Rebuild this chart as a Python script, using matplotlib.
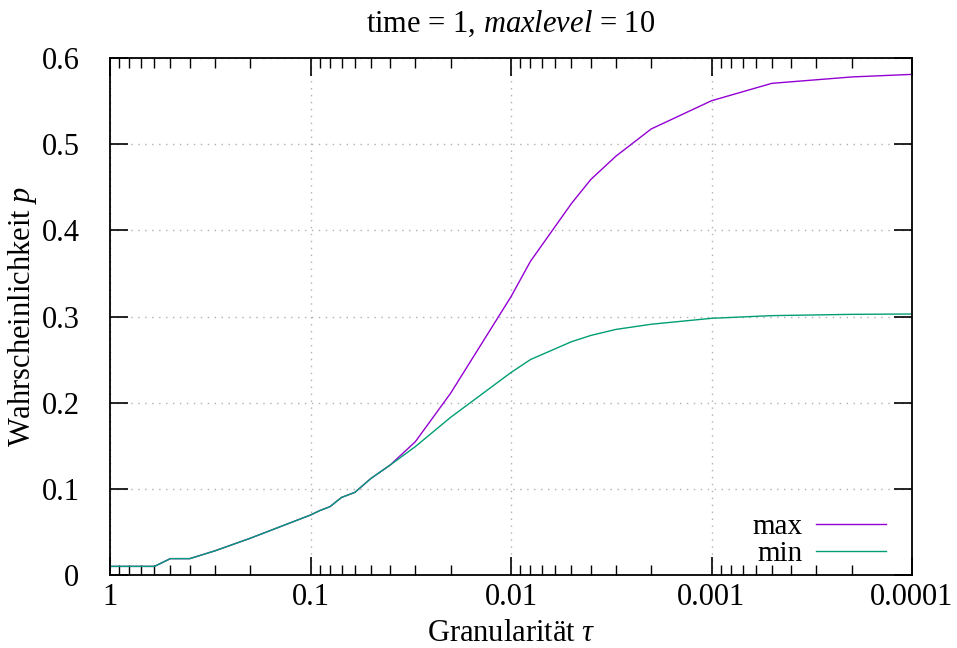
import matplotlib
matplotlib.use("Agg")
import matplotlib.pyplot as plt
from matplotlib.ticker import FixedLocator, FixedFormatter, LogLocator, NullFormatter

plt.rcParams["font.family"] = ["Liberation Serif", "DejaVu Serif"]
plt.rcParams["mathtext.fontset"] = "custom"
plt.rcParams["mathtext.rm"] = "Liberation Serif"
plt.rcParams["mathtext.it"] = "Liberation Serif:italic"

# Granularity values (tau) and the probabilities per series
tau = [1, 0.9, 0.8, 0.7, 0.6, 0.5, 0.4, 0.3, 0.2, 0.1, 0.09, 0.08, 0.07,
       0.06, 0.05, 0.04, 0.03, 0.02, 0.01, 0.008, 0.005, 0.004, 0.003,
       0.002, 0.001, 0.0005, 0.0002, 0.0001]
p_max = [0.010, 0.010, 0.010, 0.010, 0.010, 0.019, 0.019, 0.028, 0.0426,
         0.0696, 0.0747, 0.0793, 0.090, 0.096, 0.112, 0.1277, 0.1547,
         0.211, 0.323, 0.364, 0.431, 0.459, 0.486, 0.5176, 0.5504, 0.5706,
         0.578, 0.581]
p_min = [0.010, 0.010, 0.010, 0.010, 0.010, 0.019, 0.019, 0.028, 0.0426,
         0.0696, 0.0747, 0.0793, 0.090, 0.096, 0.112, 0.1277, 0.149,
         0.183, 0.235, 0.250, 0.2707, 0.278, 0.285, 0.291, 0.2979, 0.301,
         0.3025, 0.3029]

x_ticks = [1, 0.1, 0.01, 0.001, 0.0001]
x_labels = ["1", "0.1", "0.01", "0.001", "0.0001"]
y_ticks = [0, 0.1, 0.2, 0.3, 0.4, 0.5, 0.6]
y_labels = ["0", "0.1", "0.2", "0.3", "0.4", "0.5", "0.6"]

FS = 22

fig = plt.figure(figsize=(9.57, 6.48), dpi=100)
ax = fig.add_axes([110 / 957, 1 - 575 / 648, 802 / 957, 517 / 648])

ax.plot(tau, p_max, color="#9400D3", lw=1.0, label="max")
ax.plot(tau, p_min, color="#009E73", lw=1.0, label="min")

ax.set_xscale("log")
ax.set_xlim(1, 0.0001)
ax.set_ylim(0, 0.6)

ax.xaxis.set_major_locator(FixedLocator(x_ticks))
ax.xaxis.set_major_formatter(FixedFormatter(x_labels))
ax.xaxis.set_minor_locator(LogLocator(base=10, subs=range(2, 10)))
ax.xaxis.set_minor_formatter(NullFormatter())
ax.yaxis.set_major_locator(FixedLocator(y_ticks))
ax.yaxis.set_major_formatter(FixedFormatter(y_labels))

ax.tick_params(which="major", direction="in", length=13, width=1.2,
               top=True, right=True, labelsize=FS, colors="black")
ax.tick_params(axis="x", which="major", pad=6)
ax.tick_params(axis="y", which="major", pad=22)
ax.tick_params(which="minor", direction="in", length=7, width=1.0,
               top=True, right=True)
for s in ax.spines.values():
    s.set_linewidth(1.3)

ax.grid(True, which="major", linestyle=(0, (1, 4)), color="#b0b0b0", lw=1.0)

ax.set_title(r"time = 1, $\mathit{maxlevel}$ = 10", fontsize=FS, pad=19)
ax.set_xlabel(r"Granularität $\mathit{\tau}$", fontsize=FS, labelpad=5)
ax.set_ylabel(r"Wahrscheinlichkeit $\mathit{p}$", fontsize=FS, labelpad=2)

ax.legend(loc="lower right", bbox_to_anchor=(0.9676, 0.016),
          frameon=False, markerfirst=False, fontsize=21,
          handlelength=2.4, labelspacing=0.0, borderaxespad=0.0,
          handletextpad=0.45, borderpad=0.0)

fig.savefig("out.png", dpi=100)
